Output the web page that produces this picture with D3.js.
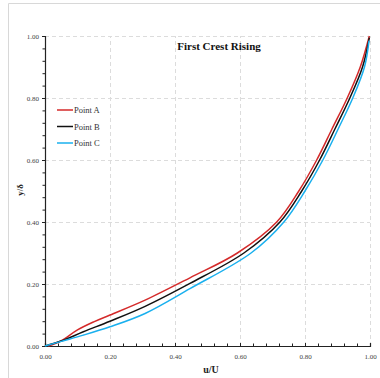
<!DOCTYPE html>
<html>
<head>
<meta charset="utf-8">
<script src="https://cdn.jsdelivr.net/npm/d3@7"></script>
<style>
  html, body { margin: 0; padding: 0; background: #fff; }
  svg { display: block; }
  text { font-family: "Liberation Serif", "Times New Roman", serif; }
</style>
</head>
<body>
<svg id="chart" width="380" height="378"></svg>
<script>
// Velocity profiles u/U against y/δ at three measuring points
const seriesNames = ["Point A", "Point B", "Point C"];
const seriesColors = ["#d42a2a", "#111111", "#1ab0ee"];

const pointA_u = [0.01, 0.05, 0.10, 0.15, 0.20, 0.308, 0.446, 0.592, 0.713, 0.781, 0.836, 0.883, 0.930, 0.970, 0.998];
const pointA_y = [0.00, 0.017, 0.052, 0.078, 0.100, 0.148, 0.220, 0.300, 0.400, 0.500, 0.600, 0.700, 0.800, 0.900, 1.000];

const pointB_u = [0.00, 0.05, 0.118, 0.20, 0.308, 0.446, 0.612, 0.723, 0.790, 0.845, 0.892, 0.938, 0.977, 0.998];
const pointB_y = [0.00, 0.016, 0.046, 0.080, 0.128, 0.202, 0.300, 0.400, 0.500, 0.600, 0.700, 0.800, 0.900, 0.995];

const pointC_u = [0.00, 0.05, 0.118, 0.20, 0.308, 0.446, 0.634, 0.735, 0.800, 0.855, 0.902, 0.947, 0.983, 0.997];
const pointC_y = [0.00, 0.015, 0.035, 0.062, 0.105, 0.185, 0.300, 0.400, 0.500, 0.600, 0.700, 0.800, 0.900, 0.985];

const majorTicks = [0, 0.2, 0.4, 0.6, 0.8, 1.0];
const minorTicks = d3.range(0, 1.0001, 0.04);

const series = [
  { name: seriesNames[0], color: seriesColors[0], u: pointA_u, y: pointA_y },
  { name: seriesNames[1], color: seriesColors[1], u: pointB_u, y: pointB_y },
  { name: seriesNames[2], color: seriesColors[2], u: pointC_u, y: pointC_y }
];

const svg = d3.select("#chart");
const serif = "Liberation Serif, Times New Roman, serif";

// outer frame
svg.append("line").attr("x1", 8.5).attr("x2", 380).attr("y1", 3.5).attr("y2", 3.5)
  .attr("stroke", "#d8d8d8").attr("stroke-width", 1);
svg.append("line").attr("x1", 8.5).attr("x2", 8.5).attr("y1", 3.5).attr("y2", 378)
  .attr("stroke", "#d8d8d8").attr("stroke-width", 1);

const x = d3.scaleLinear().domain([0, 1]).range([45, 370]);
const y = d3.scaleLinear().domain([0, 1]).range([346, 36]);

// dashed grid
const grid = svg.append("g").attr("stroke", "#dcdcdc").attr("stroke-width", 1).attr("stroke-dasharray", "4,3");
majorTicks.filter(d => d > 0).forEach(t => {
  grid.append("line").attr("x1", x(t) + 0.5).attr("x2", x(t) + 0.5).attr("y1", y(0)).attr("y2", y(1));
  grid.append("line").attr("x1", x(0)).attr("x2", x(1)).attr("y1", y(t) + 0.5).attr("y2", y(t) + 0.5);
});

// axes
const xAxis = d3.axisBottom(x).tickValues(majorTicks).tickFormat(d3.format(".2f")).tickSize(-3).tickPadding(8);
const yAxis = d3.axisLeft(y).tickValues(majorTicks).tickFormat(d3.format(".2f")).tickSize(3).tickPadding(3);

const gx = svg.append("g").attr("transform", `translate(0,${y(0)})`).call(xAxis);
const gy = svg.append("g").attr("transform", `translate(${x(0)},0)`).call(yAxis);
[gx, gy].forEach(g => {
  g.attr("font-family", serif);
  g.select(".domain").attr("stroke", "#222").attr("stroke-width", 1.2);
  g.selectAll(".tick line").attr("stroke", "#222");
  g.selectAll(".tick text").attr("font-family", serif).attr("font-size", 7).attr("fill", "#444");
});
// minor ticks
gx.selectAll(".minor").data(minorTicks).enter().append("line")
  .attr("x1", d => x(d) + 0.5).attr("x2", d => x(d) + 0.5).attr("y1", 0).attr("y2", -2.5)
  .attr("stroke", "#222");
gy.selectAll(".minor").data(minorTicks).enter().append("line")
  .attr("y1", d => y(d) + 0.5).attr("y2", d => y(d) + 0.5).attr("x1", 0).attr("x2", -2.5)
  .attr("stroke", "#222");

// curves
const line = d3.line().x(d => x(d[0])).y(d => y(d[1])).curve(d3.curveCatmullRom.alpha(0.5));
series.forEach(s => {
  const pts = s.u.map((u, i) => [u, s.y[i]]);
  svg.append("path").datum(pts).attr("d", line)
    .attr("fill", "none").attr("stroke", s.color).attr("stroke-width", 1.5);
});

// title and axis titles
svg.append("text").attr("x", 219).attr("y", 50).attr("text-anchor", "middle")
  .attr("font-family", serif).attr("font-weight", "bold").attr("font-size", 11).attr("fill", "#111")
  .text("First Crest Rising");
svg.append("text").attr("x", 211).attr("y", 373).attr("text-anchor", "middle")
  .attr("font-family", serif).attr("font-weight", "bold").attr("font-size", 10).attr("fill", "#222")
  .text("u/U");
svg.append("text").attr("transform", "translate(23,190) rotate(-90)").attr("text-anchor", "middle")
  .attr("font-family", serif).attr("font-weight", "bold").attr("font-size", 9).attr("fill", "#222")
  .text("y/δ");

// legend
const legend = svg.append("g");
series.forEach((s, i) => {
  const ly = 110 + i * 16.5;
  legend.append("line").attr("x1", 57).attr("x2", 73).attr("y1", ly).attr("y2", ly)
    .attr("stroke", s.color).attr("stroke-width", 1.5);
  legend.append("text").attr("x", 74).attr("y", ly + 3).attr("font-family", serif)
    .attr("font-size", 8.5).attr("fill", "#333").text(s.name);
});
</script>
</body>
</html>
